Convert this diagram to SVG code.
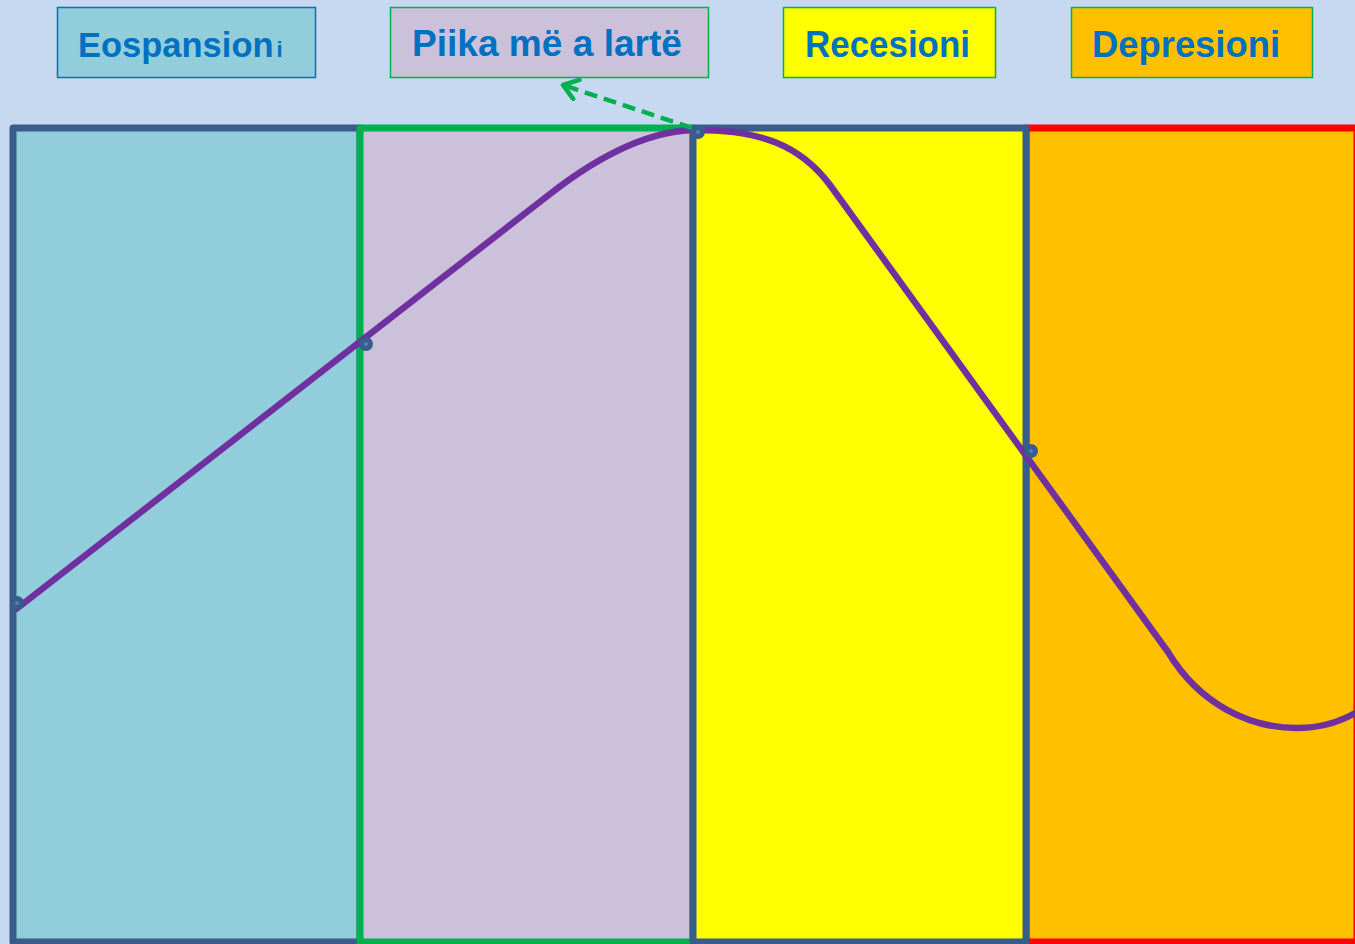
<svg xmlns="http://www.w3.org/2000/svg" width="1355" height="944" viewBox="0 0 1355 944">
<defs>
<style>
.lbl{font-family:"Liberation Sans",Arial,sans-serif;font-weight:bold;fill:#0070C0;font-size:36px}
.panel{stroke-width:7;stroke-linejoin:round}
.dot{fill:#385D8A}
.dotc{fill:#4F81BD}
</style>
<marker id="chev" viewBox="0 0 24 24" refX="20" refY="12" markerWidth="24" markerHeight="24" markerUnits="userSpaceOnUse" orient="auto">
<path d="M6,2 L20,12 L6,22" fill="none" stroke="#00B050" stroke-width="4.5" stroke-linecap="round" stroke-linejoin="round"/>
</marker>
</defs>
<rect width="1355" height="944" fill="#C6D9F0"/>
<g id="panels">
<rect id="p1" class="panel" x="13" y="128" width="347" height="814" fill="#92CDDC" stroke="#385D8A"/>
<rect id="p2" class="panel" x="360" y="128" width="333" height="814" fill="#CCC1DA" stroke="#00B050"/>
<rect id="p4" class="panel" x="1026" y="128" width="331" height="814" fill="#FFC000" stroke="#FF0000"/>
<rect id="p3" class="panel" x="693" y="128" width="333" height="814" fill="#FFFF00" stroke="#385D8A"/>
</g>
<g id="label-expansion">
<rect x="57.5" y="7.5" width="258" height="70" fill="#92CDDC" stroke="#0070C0" stroke-width="1.5"/>
<text class="lbl" x="78" y="57" style="font-size:34.5px">Eospansion<tspan dx="3" style="font-size:22px">i</tspan></text>
</g>
<g id="label-peak">
<rect x="390.5" y="7.5" width="318" height="70" fill="#CCC1DA" stroke="#00B050" stroke-width="1.5"/>
<text class="lbl" x="412" y="56" textLength="270" lengthAdjust="spacingAndGlyphs">Piika më a lartë</text>
</g>
<g id="label-recession">
<rect x="783.5" y="7.5" width="212" height="70" fill="#FFFF00" stroke="#00B050" stroke-width="1.5"/>
<text class="lbl" x="805" y="57" textLength="165" lengthAdjust="spacingAndGlyphs">Recesioni</text>
</g>
<g id="label-depression">
<rect x="1071.5" y="7.5" width="241" height="70" fill="#FFC000" stroke="#00B050" stroke-width="1.5"/>
<text class="lbl" x="1092" y="57" textLength="188" lengthAdjust="spacingAndGlyphs">Depresioni</text>
</g>
<g id="connectors">
<path d="M15,610 L550,194 C600,155 650,130 697,130 C760,130 800,145 830,185 L1168,652 C1200,705 1250,728 1297,728 C1320,728 1340,722 1357,712" fill="none" stroke="#7030A0" stroke-width="6.5" stroke-linejoin="round"/>
<line x1="692" y1="128" x2="563" y2="85" stroke="#00B050" stroke-width="4.5" stroke-dasharray="13,7" marker-end="url(#chev)"/>
</g>
<g id="points">
<circle class="dot" cx="17" cy="603" r="7"/><circle class="dotc" cx="17" cy="603" r="2"/>
<circle class="dot" cx="366" cy="344" r="7"/><circle class="dotc" cx="366" cy="344" r="2"/>
<circle class="dot" cx="698" cy="132" r="7"/><circle class="dotc" cx="698" cy="132" r="2"/>
<circle class="dot" cx="1031" cy="451" r="7"/><circle class="dotc" cx="1031" cy="451" r="2"/>
</g>
</svg>
